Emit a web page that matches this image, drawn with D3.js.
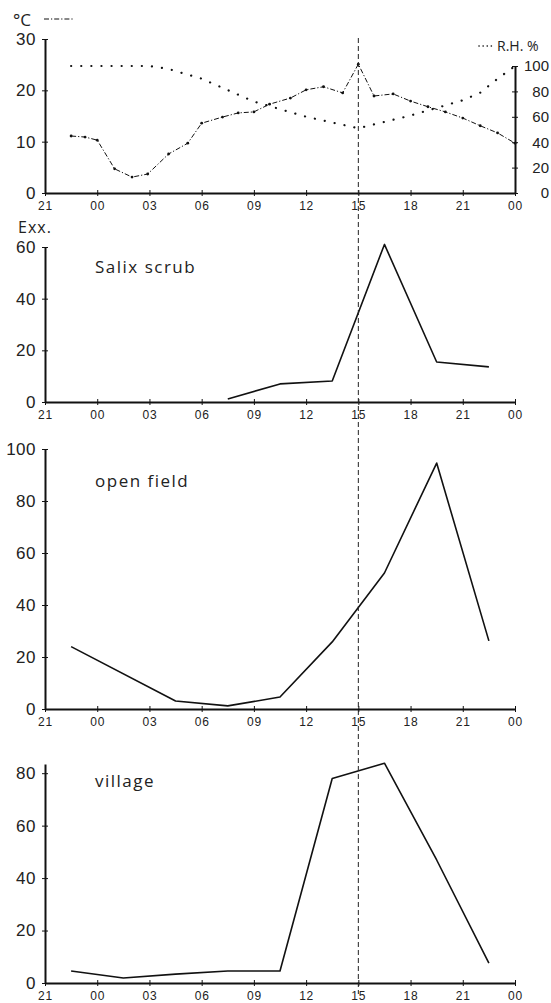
<!DOCTYPE html>
<html>
<head>
<meta charset="utf-8">
<script src="https://cdn.jsdelivr.net/npm/d3@7/dist/d3.min.js"></script>
<style>
  body { margin: 0; background: #fff; }
  svg { display: block; font-family: "Open Sans", "DejaVu Sans", sans-serif; }
  .axis path, .axis line { stroke: #111; }
  .axis text { fill: #222; }
</style>
</head>
<body>
<div id="chart-area"></div>
<script>
// Data (hours counted from 21:00 on day one, so 24 = 00, 48 = 00 next night)
const hourTicks = [21, 24, 27, 30, 33, 36, 39, 42, 45, 48]
const hourLabels = ["21", "00", "03", "06", "09", "12", "15", "18", "21", "00"]

const tempHours = [22.5, 23.3, 24, 25, 26, 26.9, 28.1, 29.2, 30, 31.2, 32.1, 33, 33.9, 35.1, 36, 37, 38.1, 39, 39.9, 41, 42, 43, 44, 45, 46, 47, 48]
const tempValues = [11.1, 10.9, 10.3, 4.7, 3.1, 3.7, 7.6, 9.7, 13.6, 14.8, 15.6, 15.8, 17.3, 18.5, 20.1, 20.7, 19.5, 25.1, 18.9, 19.3, 17.9, 16.8, 15.8, 14.6, 13.1, 11.7, 9.7]

const rhHours = [22.5, 27, 28, 30, 33, 36, 39, 42, 45, 46, 47, 48]
const rhValues = [100, 100, 98, 90, 72, 60, 51, 61, 73, 79, 90, 100]

const rhTicks = [0, 20, 40, 60, 80, 100]

const salixHours = [31.5, 34.5, 37.5, 40.5, 43.5, 46.5]
const salixValues = [1.2, 7, 8.1, 61, 15.5, 13.6]

const fieldHours = [22.5, 28.5, 31.5, 34.5, 37.5, 40.5, 43.5, 46.5]
const fieldValues = [24, 3.1, 1.2, 4.6, 25.8, 52.3, 94.6, 26.2]

const villageHours = [22.5, 25.5, 28.5, 31.5, 34.5, 37.5, 40.5, 43.5, 46.5]
const villageValues = [4.6, 1.9, 3.4, 4.6, 4.6, 78, 83.8, 46.9, 7.6]

// Canvas
const WIDTH = 551, HEIGHT = 1003
const svg = d3.select("#chart-area").append("svg")
	.attr("width", WIDTH)
	.attr("height", HEIGHT)

const x = d3.scaleLinear().domain([21, 48]).range([45, 515])

// x axis with ticks crossing the line
function drawXAxis(yPos, fontSize) {
	const g = svg.append("g")
		.attr("class", "axis")
		.attr("transform", `translate(0, ${yPos})`)
		.call(d3.axisBottom(x)
			.tickValues(hourTicks)
			.tickFormat((d, i) => hourLabels[i])
			.tickSizeInner(3)
			.tickSizeOuter(0)
			.tickPadding(5))
	g.select(".domain").attr("stroke-width", 1.8)
	g.selectAll(".tick line").attr("y1", -3).attr("y2", 3).attr("stroke-width", 1)
	g.selectAll(".tick text").attr("font-size", fontSize).attr("letter-spacing", 0.8)
	return g
}

function drawYAxis(scale, ticks, xPos) {
	const g = svg.append("g")
		.attr("class", "axis")
		.attr("transform", `translate(${xPos}, 0)`)
		.call(d3.axisLeft(scale)
			.tickValues(ticks)
			.tickSizeInner(3)
			.tickSizeOuter(0)
			.tickPadding(6))
	g.select(".domain").attr("stroke-width", 2)
	g.selectAll(".tick line").attr("x1", -3).attr("x2", 3).attr("stroke-width", 1)
	g.selectAll(".tick text").attr("font-size", 17).attr("letter-spacing", 0.5)
	return g
}

const line = (yScale) => d3.line()
	.x(d => x(d[0]))
	.y(d => yScale(d[1]))

// ---------- Panel 1: temperature and relative humidity ----------
const yTemp = d3.scaleLinear().domain([0, 30]).range([193, 39])
const yRH = d3.scaleLinear().domain([0, 100]).range([193, 66])

drawYAxis(yTemp, [0, 10, 20, 30], 45)
drawXAxis(193, 12)

// right axis for R.H. (labels right aligned just inside the page edge)
const rAxis = svg.append("g")
	.attr("class", "axis")
	.attr("transform", "translate(515, 0)")
	.call(d3.axisRight(yRH)
		.tickValues(rhTicks)
		.tickSizeInner(3)
		.tickSizeOuter(0)
		.tickPadding(31))
rAxis.select(".domain").attr("stroke-width", 2)
rAxis.selectAll(".tick line").attr("x1", -3).attr("x2", 3)
rAxis.selectAll(".tick text")
	.attr("text-anchor", "end")
	.attr("font-size", 15)

const tempData = tempHours.map((h, i) => [h, tempValues[i]])
const rhData = rhHours.map((h, i) => [h, rhValues[i]])

svg.append("path")
	.datum(rhData)
	.attr("fill", "none")
	.attr("stroke", "#111")
	.attr("stroke-width", 2.2)
	.attr("stroke-linecap", "round")
	.attr("stroke-dasharray", "0.1,10")
	.attr("d", line(yRH))

svg.append("path")
	.datum(tempData)
	.attr("fill", "none")
	.attr("stroke", "#111")
	.attr("stroke-width", 1)
	.attr("stroke-dasharray", "5,2,1.2,2")
	.attr("d", line(yTemp))

svg.selectAll(".temp-dot")
	.data(tempData)
	.enter().append("circle")
	.attr("class", "temp-dot")
	.attr("cx", d => x(d[0]))
	.attr("cy", d => yTemp(d[1]))
	.attr("r", 1.4)
	.attr("fill", "#111")

// legends of panel 1
svg.append("text")
	.attr("x", 13).attr("y", 26)
	.attr("font-size", 17)
	.attr("fill", "#222")
	.text("°C")
svg.append("line")
	.attr("x1", 44).attr("x2", 73)
	.attr("y1", 19).attr("y2", 19)
	.attr("stroke", "#111")
	.attr("stroke-width", 1)
	.attr("stroke-dasharray", "5,2,1.2,2")

svg.append("line")
	.attr("x1", 479).attr("x2", 493)
	.attr("y1", 46).attr("y2", 46)
	.attr("stroke", "#111")
	.attr("stroke-width", 1.6)
	.attr("stroke-linecap", "round")
	.attr("stroke-dasharray", "0.1,4")
svg.append("text")
	.attr("x", 497).attr("y", 51)
	.attr("font-size", 14)
	.attr("fill", "#222")
	.text("R.H. %")

// ---------- Panels 2 to 4: catches ----------
const panels = [
	{ name: "Salix scrub", hours: salixHours, values: salixValues, domain: [0, 60], ticks: [0, 20, 40, 60], bottom: 402, top: 247, labelY: 273 },
	{ name: "open field", hours: fieldHours, values: fieldValues, domain: [0, 100], ticks: [0, 20, 40, 60, 80, 100], bottom: 709, top: 449, labelY: 487 },
	{ name: "village", hours: villageHours, values: villageValues, domain: [0, 83.5], ticks: [0, 20, 40, 60, 80], bottom: 983, top: 764, labelY: 787 }
]

panels.forEach(p => {
	const y = d3.scaleLinear().domain(p.domain).range([p.bottom, p.top])
	drawYAxis(y, p.ticks, 45)
	drawXAxis(p.bottom, 12)

	svg.append("path")
		.datum(p.hours.map((h, i) => [h, p.values[i]]))
		.attr("fill", "none")
		.attr("stroke", "#111")
		.attr("stroke-width", 1.6)
		.attr("stroke-linejoin", "round")
		.attr("d", line(y))

	svg.append("text")
		.attr("x", 95).attr("y", p.labelY)
		.attr("font-size", 17)
		.attr("letter-spacing", 1.5)
		.attr("fill", "#222")
		.text(p.name)
})

svg.append("text")
	.attr("x", 18).attr("y", 233)
	.attr("font-size", 16)
	.attr("letter-spacing", 1)
	.attr("fill", "#222")
	.text("Exx.")

// 15:00 reference line through all panels
svg.append("line")
	.attr("x1", x(39)).attr("x2", x(39))
	.attr("y1", 38).attr("y2", 994)
	.attr("stroke", "#222")
	.attr("stroke-width", 1)
	.attr("stroke-dasharray", "5,3")
</script>
</body>
</html>
